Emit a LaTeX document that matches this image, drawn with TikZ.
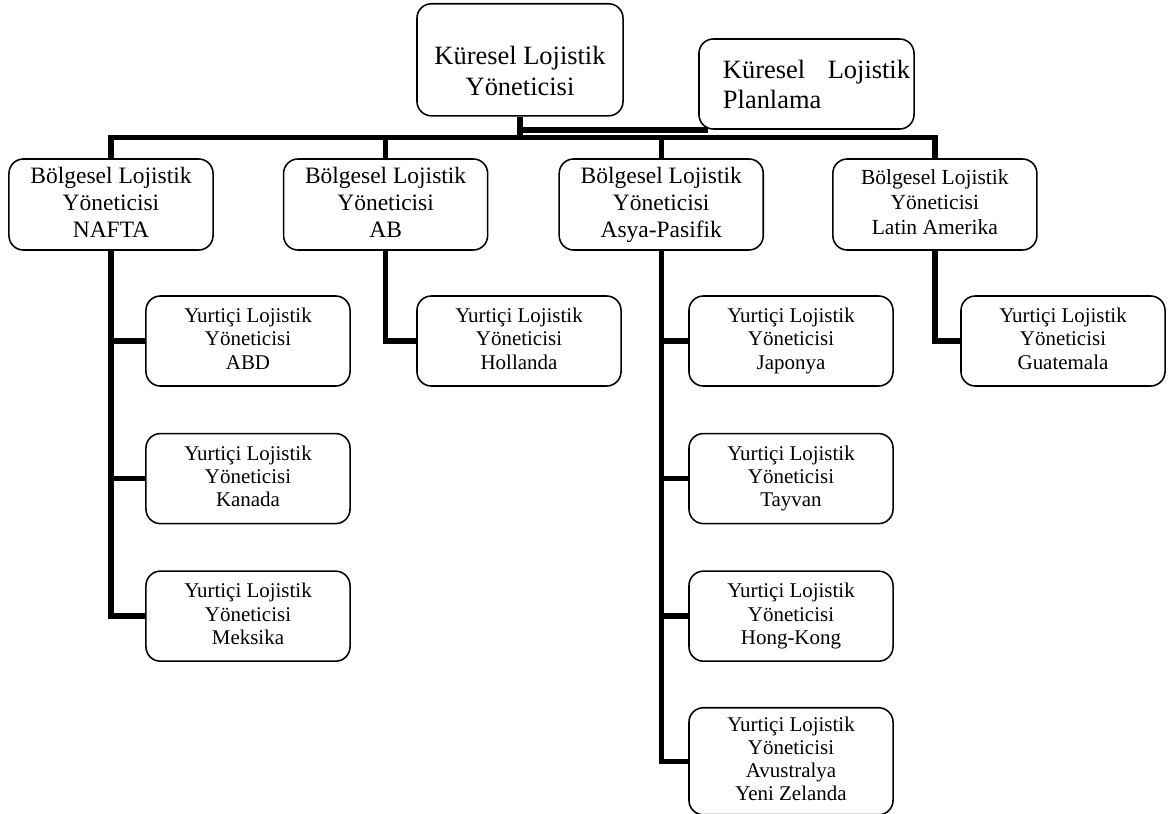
\documentclass[tikz,border=0pt]{standalone}
\usepackage{fontspec}
\setmainfont{Liberation Serif}
\usetikzlibrary{positioning}
\tikzset{
  box/.style={draw=black, rounded corners=0.36cm, line width=1.1pt,
              minimum width=5.1cm, minimum height=2.275cm, align=center,
              inner sep=2pt, fill=white},
  boss/.style={box, minimum width=5.15cm, font=\fontsize{18.8}{22}\selectfont,
               inner ysep=0pt, text height=2.3cm, text depth=0.5cm},
  planbox/.style={box, align=left, text width=5.175cm, inner xsep=0.1cm,
                  minimum width=5.375cm, minimum height=2.25cm,
                  font=\fontsize{18.8}{21.3}\selectfont},
  region/.style={box, text depth=0.12cm, font=\fontsize{16.7}{19.1}\selectfont},
  regionsm/.style={region, font=\fontsize{15.3}{17.6}\selectfont},
  sub/.style={box, minimum height=2.25cm, text depth=0.12cm,
              font=\fontsize{14.9}{16.5}\selectfont},
  conn/.style={line width=3.9pt, line join=miter}
}

\begin{document}
\begin{tikzpicture}[x=0.025cm, y=-0.025cm]
  \useasboundingbox (0,0) rectangle (1170,814);

  % top level
  \node[boss, anchor=north] (top) at (520,3) {Küresel Lojistik\\Yöneticisi};
  \node[planbox] (plan) at (806.5,84)
       {\hspace*{0.5cm}Küresel\hfill Lojistik\\\hspace*{0.5cm}Planlama};

  % regional managers
  \node[region] (nafta) at (111,204.5) {Bölgesel Lojistik\\Yöneticisi\\NAFTA};
  \node[region, right=1.725cm of nafta] (ab) {Bölgesel Lojistik\\Yöneticisi\\AB};
  \node[region, right=1.75cm of ab] (asya) {Bölgesel Lojistik\\Yöneticisi\\Asya-Pasifik};
  \node[regionsm, right=1.7cm of asya] (latin) {Bölgesel Lojistik\\Yöneticisi\\Latin Amerika};

  % domestic managers
  \node[sub] (abd) at (248,341) {Yurtiçi Lojistik\\Yöneticisi\\ABD};
  \node[sub, below=1.15cm of abd] (kanada) {Yurtiçi Lojistik\\Yöneticisi\\Kanada};
  \node[sub, below=1.15cm of kanada] (meksika) {Yurtiçi Lojistik\\Yöneticisi\\Meksika};

  \node[sub] (hollanda) at (519,341) {Yurtiçi Lojistik\\Yöneticisi\\Hollanda};

  \node[sub] (japonya) at (791,341) {Yurtiçi Lojistik\\Yöneticisi\\Japonya};
  \node[sub, below=1.15cm of japonya] (tayvan) {Yurtiçi Lojistik\\Yöneticisi\\Tayvan};
  \node[sub, below=1.15cm of tayvan] (hongkong) {Yurtiçi Lojistik\\Yöneticisi\\Hong-Kong};
  \node[sub, below=1.125cm of hongkong, minimum height=2.675cm] (avus)
       {Yurtiçi Lojistik\\Yöneticisi\\Avustralya\\Yeni Zelanda};

  \node[sub] (guatemala) at (1063,341) {Yurtiçi Lojistik\\Yöneticisi\\Guatemala};

  % connectors
  \coordinate (bus) at (520,137.5);
  \draw[conn] (top.south) -- (bus);
  \draw[conn] (top.south |- plan.south west) -- ([xshift=0.25cm]plan.south west);
  \foreach \r in {nafta,ab,asya,latin}
    \draw[conn] (bus) -| (\r.north);
  \foreach \c in {abd,kanada,meksika}
    \draw[conn] (nafta.south) |- (\c.west);
  \draw[conn] (ab.south) |- (hollanda.west);
  \foreach \c in {japonya,tayvan,hongkong,avus}
    \draw[conn] (asya.south) |- (\c.west);
  \draw[conn] (latin.south) |- (guatemala.west);
\end{tikzpicture}
\end{document}
